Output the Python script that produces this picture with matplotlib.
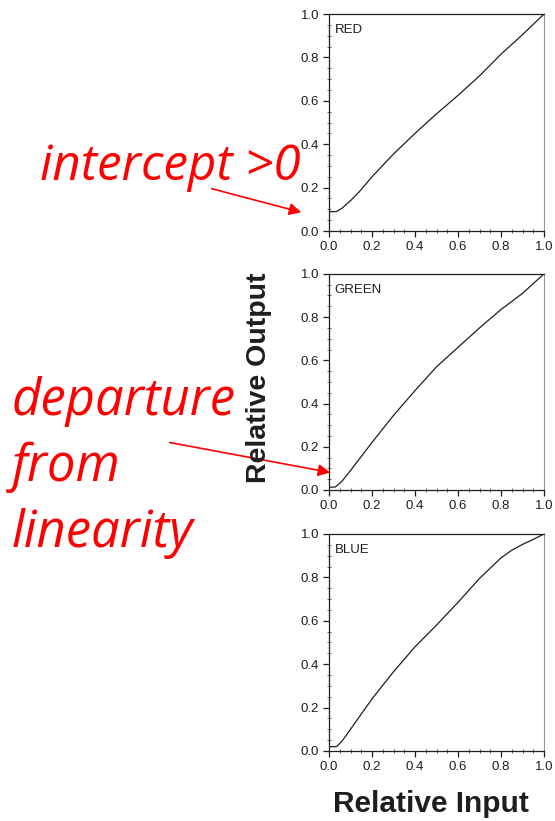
import matplotlib.pyplot as plt
from matplotlib.patches import FancyArrowPatch
from matplotlib.ticker import MultipleLocator

# gun response curves, relative input vs relative output
red_x = [0.0, 0.035, 0.06, 0.1, 0.14, 0.2, 0.3, 0.4, 0.5, 0.6, 0.7, 0.8, 0.9, 1.0]
red_y = [0.089, 0.09, 0.105, 0.14, 0.18, 0.25, 0.355, 0.45, 0.54, 0.625, 0.715, 0.815, 0.905, 1.0]

green_x = [0.0, 0.03, 0.06, 0.1, 0.15, 0.2, 0.3, 0.4, 0.5, 0.6, 0.7, 0.8, 0.9, 1.0]
green_y = [0.012, 0.014, 0.04, 0.09, 0.155, 0.22, 0.345, 0.46, 0.57, 0.66, 0.75, 0.835, 0.91, 1.0]

blue_x = [0.0, 0.035, 0.06, 0.1, 0.15, 0.2, 0.3, 0.4, 0.5, 0.6, 0.7, 0.8, 0.85, 0.9, 0.95, 1.0]
blue_y = [0.02, 0.02, 0.045, 0.1, 0.17, 0.24, 0.365, 0.48, 0.58, 0.685, 0.795, 0.89, 0.925, 0.952, 0.975, 1.0]

panels = [("RED", red_x, red_y), ("GREEN", green_x, green_y), ("BLUE", blue_x, blue_y)]
ticks = [0.0, 0.2, 0.4, 0.6, 0.8, 1.0]

notes = ["departure", "from", "linearity"]

plt.rcParams['font.family'] = ['Liberation Sans', 'DejaVu Sans']

W, H = 555, 821
fig = plt.figure(figsize=(W / 100, H / 100), dpi=100)

# axes boxes placed in figure fractions
boxes = [
    [0.5928, 0.7186, 0.3874, 0.2643],
    [0.5928, 0.4032, 0.3874, 0.2632],
    [0.5928, 0.0853, 0.3874, 0.2643],
]

ink = '#1e1e1e'
for (name, xs, ys), box in zip(panels, boxes):
    ax = fig.add_axes(box)
    ax.plot(xs, ys, color=ink, lw=0.9)
    ax.set_xlim(0, 1)
    ax.set_ylim(0, 1)
    ax.set_xticks(ticks)
    ax.set_yticks(ticks)
    ax.set_xticklabels([f"{t:.1f}" for t in ticks])
    ax.set_yticklabels([f"{t:.1f}" for t in ticks])
    ax.xaxis.set_minor_locator(MultipleLocator(0.05))
    ax.yaxis.set_minor_locator(MultipleLocator(0.05))
    ax.tick_params(which='major', direction='out', length=4.5, width=0.9,
                   labelsize=9.5, pad=2.5, colors=ink)
    ax.tick_params(which='minor', direction='inout', length=3, width=0.6,
                   colors='#444444')
    for side in ['left', 'bottom', 'top']:
        ax.spines[side].set_color(ink)
        ax.spines[side].set_linewidth(0.9)
    ax.spines['right'].set_color('#999999')
    ax.spines['right'].set_linewidth(0.8)
    ax.text(0.025, 0.925, name, transform=ax.transAxes, fontsize=9.5,
            va='center', ha='left', color=ink)

fig.text(0.467, 0.540, "Relative Output", rotation=90, fontsize=20.5,
         fontweight='bold', ha='center', va='center', color=ink)
fig.text(0.777, 0.021, "Relative Input", fontsize=21.5, fontweight='bold',
         ha='center', va='center', color=ink)

# red annotations on the left, one text per line
red = '#ff0000'
fig.text(40 / W, 1 - 180 / H, "intercept >0", fontsize=35.5, style='italic',
         color=red, family='Open Sans', ha='left', va='baseline', zorder=5)
for word, base in zip(notes, [415, 481, 547]):
    fig.text(12 / W, 1 - base / H, word, fontsize=36.5, style='italic',
             color=red, family='Open Sans', ha='left', va='baseline')

fig.add_artist(FancyArrowPatch(
    (209 / W, 1 - 188 / H), (304 / W, 1 - 213 / H),
    transform=fig.transFigure, arrowstyle='-|>', mutation_scale=18,
    color=red, lw=1.2))
fig.add_artist(FancyArrowPatch(
    (167 / W, 1 - 442 / H), (333 / W, 1 - 473 / H),
    transform=fig.transFigure, arrowstyle='-|>', mutation_scale=18,
    color=red, lw=1.2))

fig.savefig("out.png", dpi=100)
